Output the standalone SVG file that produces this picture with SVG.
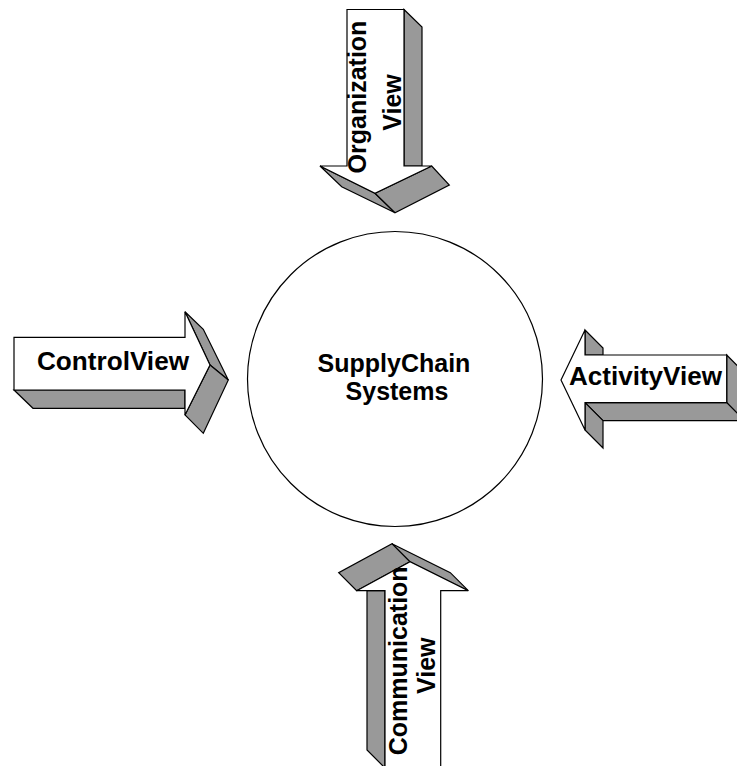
<svg xmlns="http://www.w3.org/2000/svg" width="737" height="766" viewBox="0 0 737 766">
<style>
.front{fill:#ffffff;stroke:#000000;stroke-width:1.2;stroke-linejoin:miter}
.side{fill:#999999;stroke:#000000;stroke-width:1.2;stroke-linejoin:miter}
.lbl{font-family:"Liberation Sans",Arial,sans-serif;font-weight:bold;font-size:25px;fill:#000000}
</style>
<rect width="737" height="766" fill="#ffffff"/>
<g id="connectors"></g>
<g id="supply-chain">
<circle cx="395" cy="379" r="147.5" fill="#ffffff" stroke="#000000" stroke-width="1.2"/>
<text class="lbl" x="394" y="371.7" text-anchor="middle">SupplyChain</text>
<text class="lbl" x="397" y="400" text-anchor="middle">Systems</text>
</g>
<g id="organization-view">
<polygon class="side" points="404,9.5 422,27 422,166 404,166"/>
<polygon class="side" points="320,166 341.7,186.7 395,212.7 375,193.3"/>
<polygon class="side" points="375,193.3 395,212.7 449.3,185 431.7,166"/>
<polygon class="front" points="347,9.5 404,9.5 404,166 431.7,166 375,193.3 320,166 347,166"/>
<text class="lbl" transform="translate(366,97) rotate(-90)" text-anchor="middle">Organization</text>
<text class="lbl" transform="translate(401,102.5) rotate(-90)" text-anchor="middle">View</text>
</g>
<g id="control-view">
<polygon class="side" points="14,390 185,390 185,408.3 33,408.3"/>
<polygon class="side" points="185,311.7 203.3,329.3 228.3,380 210,365"/>
<polygon class="side" points="210,365 228.3,380 203.3,433.3 185,415"/>
<polygon class="front" points="14,337.3 185,337.3 185,311.7 210,365 185,415 185,390 14,390"/>
<text class="lbl" x="113" y="370" text-anchor="middle" textLength="152" lengthAdjust="spacingAndGlyphs">ControlView</text>
</g>
<g id="activity-view">
<polygon class="side" points="585,330 603,348 603,355 585,355"/>
<polygon class="side" points="726.7,355 744.7,373 744.7,420.7 726.7,402.7"/>
<polygon class="side" points="585,402.7 726.7,402.7 744.7,420.7 603,420.7"/>
<polygon class="side" points="585,402.7 603,420.7 603,448 585,430"/>
<polygon class="front" points="561,380 585,330 585,355 726.7,355 726.7,402.7 585,402.7 585,430"/>
<text class="lbl" x="645.5" y="385" text-anchor="middle" textLength="153" lengthAdjust="spacingAndGlyphs">ActivityView</text>
</g>
<g id="communication-view">
<polygon class="side" points="410,561.7 356.7,590.7 338.7,572.7 392,543.7"/>
<polygon class="side" points="410,561.7 468.3,590.7 450.3,572.7 392,543.7"/>
<polygon class="side" points="367,590.7 385,590.7 385,768 367,750"/>
<polygon class="front" points="385,770 385,590.7 356.7,590.7 410,561.7 468.3,590.7 440.7,590.7 440.7,770"/>
<text class="lbl" transform="translate(406.5,660.8) rotate(-90)" text-anchor="middle">Communication</text>
<text class="lbl" transform="translate(435,665.7) rotate(-90)" text-anchor="middle">View</text>
</g>
</svg>
